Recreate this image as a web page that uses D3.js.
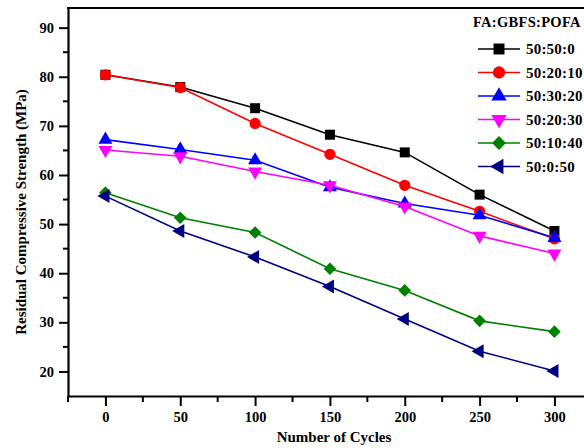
<!DOCTYPE html>
<html>
<head>
<meta charset="utf-8">
<script src="https://cdn.jsdelivr.net/npm/d3@7"></script>
<style>
  body { margin: 0; background: #fff; }
  text { font-family: "Liberation Serif", "Times New Roman", serif; font-weight: bold; }
</style>
</head>
<body>
<script>
var cycles = [0, 50, 100, 150, 200, 250, 300];
var mixes = ["50:50:0", "50:20:10", "50:30:20", "50:20:30", "50:10:40", "50:0:50"];
var s50_50_0 = [80.4, 77.9, 73.6, 68.2, 64.6, 56.0, 48.6];
var s50_20_10 = [80.4, 77.8, 70.5, 64.2, 57.9, 52.6, 47.0];
var s50_30_20 = [67.2, 65.2, 63.0, 57.5, 54.2, 51.8, 47.2];
var s50_20_30 = [65.1, 63.8, 60.7, 57.9, 53.6, 47.6, 44.0];
var s50_10_40 = [56.4, 51.3, 48.3, 40.9, 36.5, 30.3, 28.1];
var s50_0_50 = [55.7, 48.6, 43.3, 37.3, 30.7, 24.1, 20.1];
var xTicks = [0, 50, 100, 150, 200, 250, 300];
var yTicks = [20, 30, 40, 50, 60, 70, 80, 90];

var width = 584, height = 448;
var mLeft = 68, mTop = 8, mBottom = 396;

var series = [
  { name: mixes[0], values: s50_50_0, color: "#000000", shape: d3.symbolSquare, size: 100, rot: 0 },
  { name: mixes[1], values: s50_20_10, color: "#ff0000", shape: d3.symbolCircle, size: 100, rot: 0 },
  { name: mixes[2], values: s50_30_20, color: "#0000ff", shape: d3.symbolTriangle, size: 85, rot: 0 },
  { name: mixes[3], values: s50_20_30, color: "#ff00ff", shape: d3.symbolTriangle, size: 85, rot: 180 },
  { name: mixes[4], values: s50_10_40, color: "#008000", shape: d3.symbolSquare, size: 80, rot: 45 },
  { name: mixes[5], values: s50_0_50, color: "#000080", shape: d3.symbolTriangle, size: 85, rot: -90 }
];

var x = d3.scaleLinear().domain([-25, 325]).range([mLeft, mLeft + 350 * 1.4967]);
var y = d3.scaleLinear().domain([15, 94]).range([mBottom, mTop]);

var svg = d3.select("body").append("svg")
    .attr("width", width)
    .attr("height", height);

// axes
var xAxis = svg.append("g")
    .attr("transform", "translate(0," + mBottom + ")")
    .call(d3.axisBottom(x).tickValues(xTicks).tickSize(10).tickPadding(6).tickSizeOuter(0));
xAxis.append("g").selectAll("line")
    .data(d3.range(-25, 326, 50))
  .enter().append("line")
    .attr("x1", function(d) { return x(d); })
    .attr("x2", function(d) { return x(d); })
    .attr("y1", 0).attr("y2", 6)
    .attr("stroke", "#000").attr("stroke-width", 2);

var yAxis = svg.append("g")
    .attr("transform", "translate(" + mLeft + ",0)")
    .call(d3.axisLeft(y).tickValues(yTicks).tickSize(9).tickPadding(5).tickSizeOuter(0));
yAxis.append("g").selectAll("line")
    .data(d3.range(25, 90, 10))
  .enter().append("line")
    .attr("y1", function(d) { return y(d); })
    .attr("y2", function(d) { return y(d); })
    .attr("x1", 0).attr("x2", -5)
    .attr("stroke", "#000").attr("stroke-width", 2);

svg.selectAll(".domain").attr("stroke", "#000").attr("stroke-width", 2.2);
svg.selectAll(".tick line").attr("stroke", "#000").attr("stroke-width", 2);
svg.selectAll(".tick text")
    .attr("font-family", "Liberation Serif")
    .attr("font-weight", "bold")
    .attr("font-size", 14.5)
    .attr("fill", "#000");

// top frame
svg.append("line")
    .attr("x1", mLeft - 1).attr("x2", width)
    .attr("y1", y(94)).attr("y2", y(94))
    .attr("stroke", "#000").attr("stroke-width", 2.2);

// axis titles
svg.append("text")
    .attr("x", 334).attr("y", 442)
    .attr("text-anchor", "middle")
    .attr("font-size", 15)
    .text("Number of Cycles");

svg.append("text")
    .attr("transform", "translate(21,212) rotate(-90)")
    .attr("text-anchor", "middle")
    .attr("dominant-baseline", "central")
    .attr("font-size", 15)
    .text("Residual Compressive Strength (MPa)");

// lines and markers
var line = d3.line()
    .x(function(d, i) { return x(cycles[i]); })
    .y(function(d) { return y(d); });

series.forEach(function(s) {
  svg.append("path")
      .datum(s.values)
      .attr("d", line)
      .attr("fill", "none")
      .attr("stroke", s.color)
      .attr("stroke-width", 1.6);
});

series.forEach(function(s) {
  svg.append("g").selectAll("path")
      .data(s.values)
    .enter().append("path")
      .attr("d", d3.symbol().type(s.shape).size(s.size))
      .attr("transform", function(d, i) {
        return "translate(" + x(cycles[i]) + "," + y(d) + ") rotate(" + s.rot + ")";
      })
      .attr("fill", s.color);
});

// legend
var legend = svg.append("g");
legend.append("text")
    .attr("x", 473).attr("y", 27)
    .attr("font-size", 14.5)
    .attr("letter-spacing", 0.3)
    .text("FA:GBFS:POFA");

var rows = legend.selectAll(".row")
    .data(series)
  .enter().append("g")
    .attr("class", "row")
    .attr("transform", function(d, i) { return "translate(0," + (49 + i * 23.5) + ")"; });

rows.append("line")
    .attr("x1", 478).attr("x2", 520)
    .attr("stroke", function(d) { return d.color; })
    .attr("stroke-width", 1.6);
rows.append("path")
    .attr("d", function(d) { return d3.symbol().type(d.shape).size(d.size * 1.2)(); })
    .attr("transform", function(d) { return "translate(499,0) rotate(" + d.rot + ")"; })
    .attr("fill", function(d) { return d.color; });
rows.append("text")
    .attr("x", 526).attr("y", 0)
    .attr("dominant-baseline", "central")
    .attr("font-size", 15)
    .attr("letter-spacing", 0.2)
    .text(function(d) { return d.name; });
</script>
</body>
</html>
